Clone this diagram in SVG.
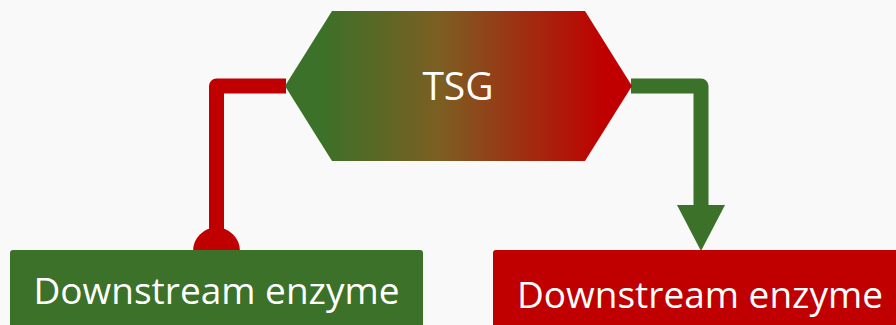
<svg xmlns="http://www.w3.org/2000/svg" width="896" height="325" viewBox="0 0 896 325">
<defs>
<linearGradient id="g" x1="285" y1="0" x2="632" y2="0" gradientUnits="userSpaceOnUse">
<stop offset="0.1" stop-color="#3b7128"/>
<stop offset="0.45" stop-color="#7d5e22"/>
<stop offset="0.92" stop-color="#c00000"/>
</linearGradient>
<style>
.lbl{font-family:"Open Sans","Liberation Sans",sans-serif;fill:#fff;text-anchor:middle}
.ln{fill:none;stroke-width:15;stroke-linejoin:round}
</style>
</defs>
<rect width="896" height="325" fill="#f9f9f9"/>
<g id="connectors">
<path class="ln" d="M286 86 H216.5 V250" stroke="#c00000"/>
<circle cx="216.5" cy="251" r="23.5" fill="#c00000"/>
<path class="ln" d="M631 86 H701 V206" stroke="#3b7128"/>
<polygon points="677,205 725,205 701,251" fill="#3b7128"/>
</g>
<g id="tsg">
<polygon points="285,86 332,11 585,11 632,86 585,161 332,161" fill="url(#g)"/>
<text class="lbl" x="458" y="100" font-size="39">TSG</text>
</g>
<g id="enzyme-left">
<rect x="10" y="250" width="413" height="85" rx="3" fill="#3b7128"/>
<text class="lbl" x="216.5" y="304" font-size="37">Downstream enzyme</text>
</g>
<g id="enzyme-right">
<rect x="493" y="250" width="413" height="85" rx="3" fill="#c00000"/>
<text class="lbl" x="700" y="308" font-size="37">Downstream enzyme</text>
</g>
</svg>
